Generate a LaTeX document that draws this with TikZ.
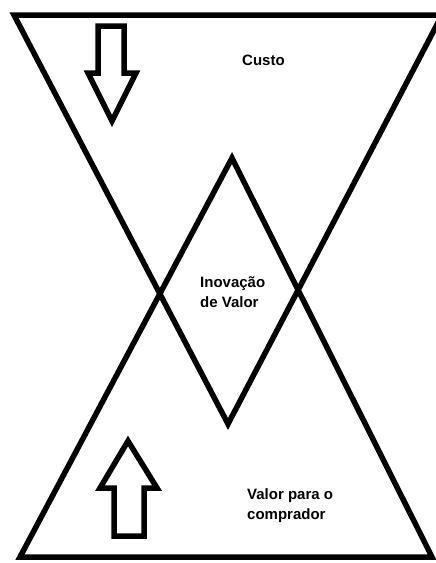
\documentclass[tikz,border=0pt]{standalone}
\usepackage{fontspec}
\setmainfont{Liberation Sans}
\begin{document}
\begin{tikzpicture}[x=1pt,y=-1pt,
  shapeline/.style={line width=5.5pt, line join=miter},
  lbl/.style={font=\bfseries\fontsize{15}{19.5}\selectfont, align=left, inner sep=0pt, anchor=base west}]
\useasboundingbox (0,0) rectangle (436,563);
\clip (0,0) rectangle (436,563);
% top (inverted) triangle
\coordinate (tl) at (14,15);
\coordinate (tr) at (442,15);
\coordinate (tapex) at (228,424);
% bottom triangle
\coordinate (bl) at (20,557);
\coordinate (br) at (432,557);
\coordinate (bapex) at (232,158);
\draw[shapeline] (tl) -- (tr) -- (tapex) -- cycle;
\draw[shapeline] (bl) -- (br) -- (bapex) -- cycle;
% down arrow
\draw[shapeline] (98,26) -- (124,26) -- (124,73) -- (136,73) -- (112,121) -- (88,73) -- (98,73) -- cycle;
% up arrow
\draw[shapeline] (114,536) -- (144,536) -- (144,488) -- (157,488) -- (128,441) -- (100,488) -- (114,488) -- cycle;
% labels
\node[lbl] (custo) at (242,65) {Custo};
\node[lbl] (inov) at (200,307) {Inovação\\de Valor};
\node[lbl] (valor) at (247,519) {Valor para o\\comprador};
\end{tikzpicture}
\end{document}
